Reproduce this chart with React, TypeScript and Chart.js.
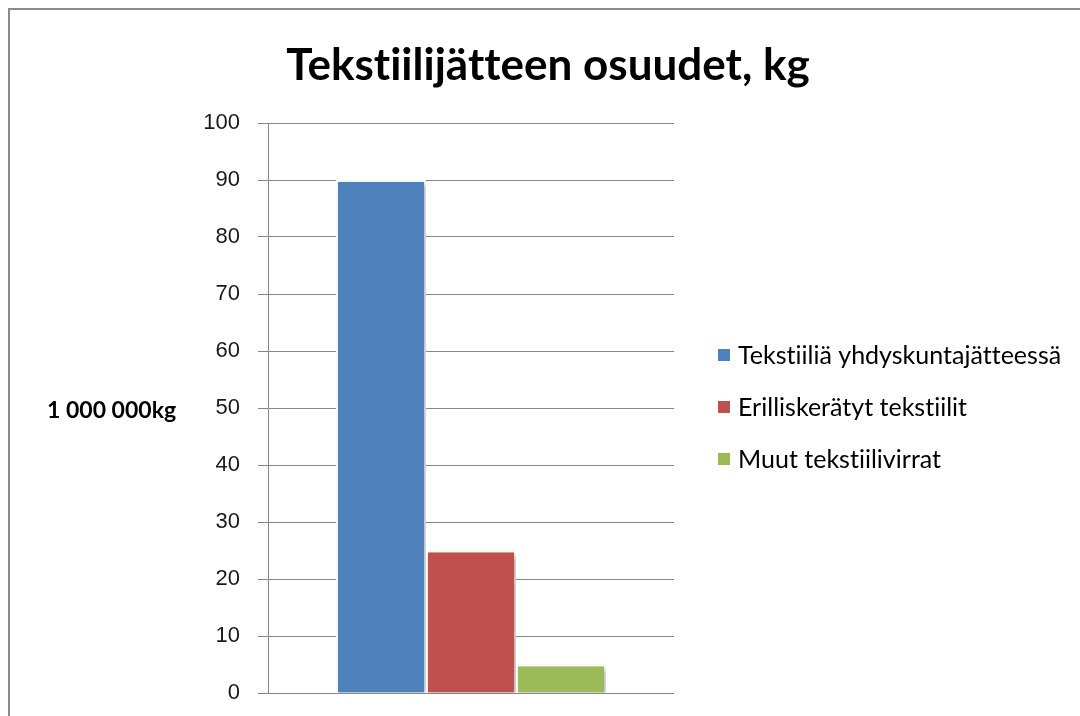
import React, { useEffect, useRef } from "react";
import { Chart, registerables } from "chart.js";

Chart.register(...registerables);

const chartTitle = "Tekstiilijätteen osuudet, kg";
const yAxisTitle = "1 000 000kg";
const categories = [""];
const seriesNames = [
  "Tekstiiliä yhdyskuntajätteessä",
  "Erilliskerätyt tekstiilit",
  "Muut tekstiilivirrat",
];
const seriesValues = [90, 25, 5];
const seriesColors = ["#4F81BD", "#C0504D", "#9BBB59"];
const yMin = 0;
const yMax = 100;
const yStep = 10;

const noLigPlugin = {
  id: "noLigatures",
  beforeDraw(chart: any) {
    const ctx = chart.ctx;
    try {
      ctx.textRendering = "optimizeSpeed";
      ctx.letterSpacing = "0.01px";
    } catch (e) {}
  },
};

const shadowPlugin = {
  id: "barShadow",
  beforeDatasetsDraw(chart: any) {
    const ctx = chart.ctx;
    ctx.save();
    ctx.shadowColor = "rgba(0,0,0,0.35)";
    ctx.shadowBlur = 5;
    ctx.shadowOffsetX = 2;
    ctx.shadowOffsetY = 2;
  },
  afterDatasetsDraw(chart: any) {
    chart.ctx.restore();
  },
};

const textPlugin = {
  id: "chartTexts",
  afterDraw(chart: any) {
    const ctx = chart.ctx;
    const { top, bottom } = chart.chartArea;
    ctx.save();
    // title
    ctx.font = "bold 44px Lato";
    ctx.fillStyle = "#000";
    ctx.textAlign = "center";
    ctx.textBaseline = "middle";
    ctx.fillText(chartTitle, 538, 56);
    // horizontal y-axis title
    ctx.font = "bold 23px Lato";
    ctx.textAlign = "left";
    ctx.fillText(yAxisTitle, 37, (top + bottom) / 2 + 3);
    ctx.restore();
  },
};

const sideLegendPlugin = {
  id: "sideLegend",
  afterDraw(chart: any) {
    const ctx = chart.ctx;
    const { top, bottom, right } = chart.chartArea;
    const mid = (top + bottom) / 2;
    const rowGap = 52;
    const n = chart.data.datasets.length;
    ctx.save();
    ctx.font = "25px Lato";
    ctx.textAlign = "left";
    ctx.textBaseline = "middle";
    chart.data.datasets.forEach((ds: any, i: number) => {
      const y = mid + (i - (n - 1) / 2) * rowGap - 1;
      const bx = right + 44;
      ctx.fillStyle = ds.backgroundColor;
      ctx.fillRect(bx, y - 6, 12, 12);
      ctx.fillStyle = "#000";
      ctx.fillText(ds.label, bx + 20, y + 1);
    });
    ctx.restore();
  },
};

export default function App() {
  const canvasRef = useRef<HTMLCanvasElement | null>(null);

  useEffect(() => {
    if (!canvasRef.current) return;
    const chart = new Chart(canvasRef.current, {
      type: "bar",
      data: {
        labels: categories,
        datasets: seriesNames.map((name, i) => ({
          label: name,
          data: [seriesValues[i]],
          backgroundColor: seriesColors[i],
          borderColor: "#ffffff",
          borderWidth: 2,
          categoryPercentage: 0.665,
          barPercentage: 1,
        })),
      },
      options: {
        responsive: false,
        animation: false,
        layout: { padding: { left: 0, right: 406, top: 113, bottom: 23 } },
        plugins: {
          title: { display: false },
          legend: { display: false },
          tooltip: { enabled: false },
        },
        scales: {
          x: {
            display: false,
          },
          y: {
            min: yMin,
            max: yMax,
            afterFit: (scale: any) => {
              scale.width = 258;
              scale.paddingTop = 12;
              scale.paddingBottom = 12;
            },
            ticks: {
              stepSize: yStep,
              color: "#1a1a1a",
              padding: 18,
              font: { family: "Liberation Sans", size: 22 },
            },
            grid: { color: "#868686", lineWidth: 1, tickLength: 10 },
            border: { color: "#868686", width: 1 },
          },
        },
      },
      plugins: [noLigPlugin, shadowPlugin, textPlugin, sideLegendPlugin],
    });
    return () => chart.destroy();
  }, []);

  return (
    <div
      style={{
        position: "fixed",
        left: 8,
        top: 8,
        width: 1072,
        height: 708,
        overflow: "hidden",
        boxSizing: "border-box",
        borderTop: "2px solid #8b8b8b",
        borderLeft: "2px solid #8b8b8b",
        background: "#fff",
      }}
    >
      <canvas
        ref={canvasRef}
        width={1070}
        height={706}
        style={{ display: "block", width: 1070, height: 706 }}
      />
    </div>
  );
}
